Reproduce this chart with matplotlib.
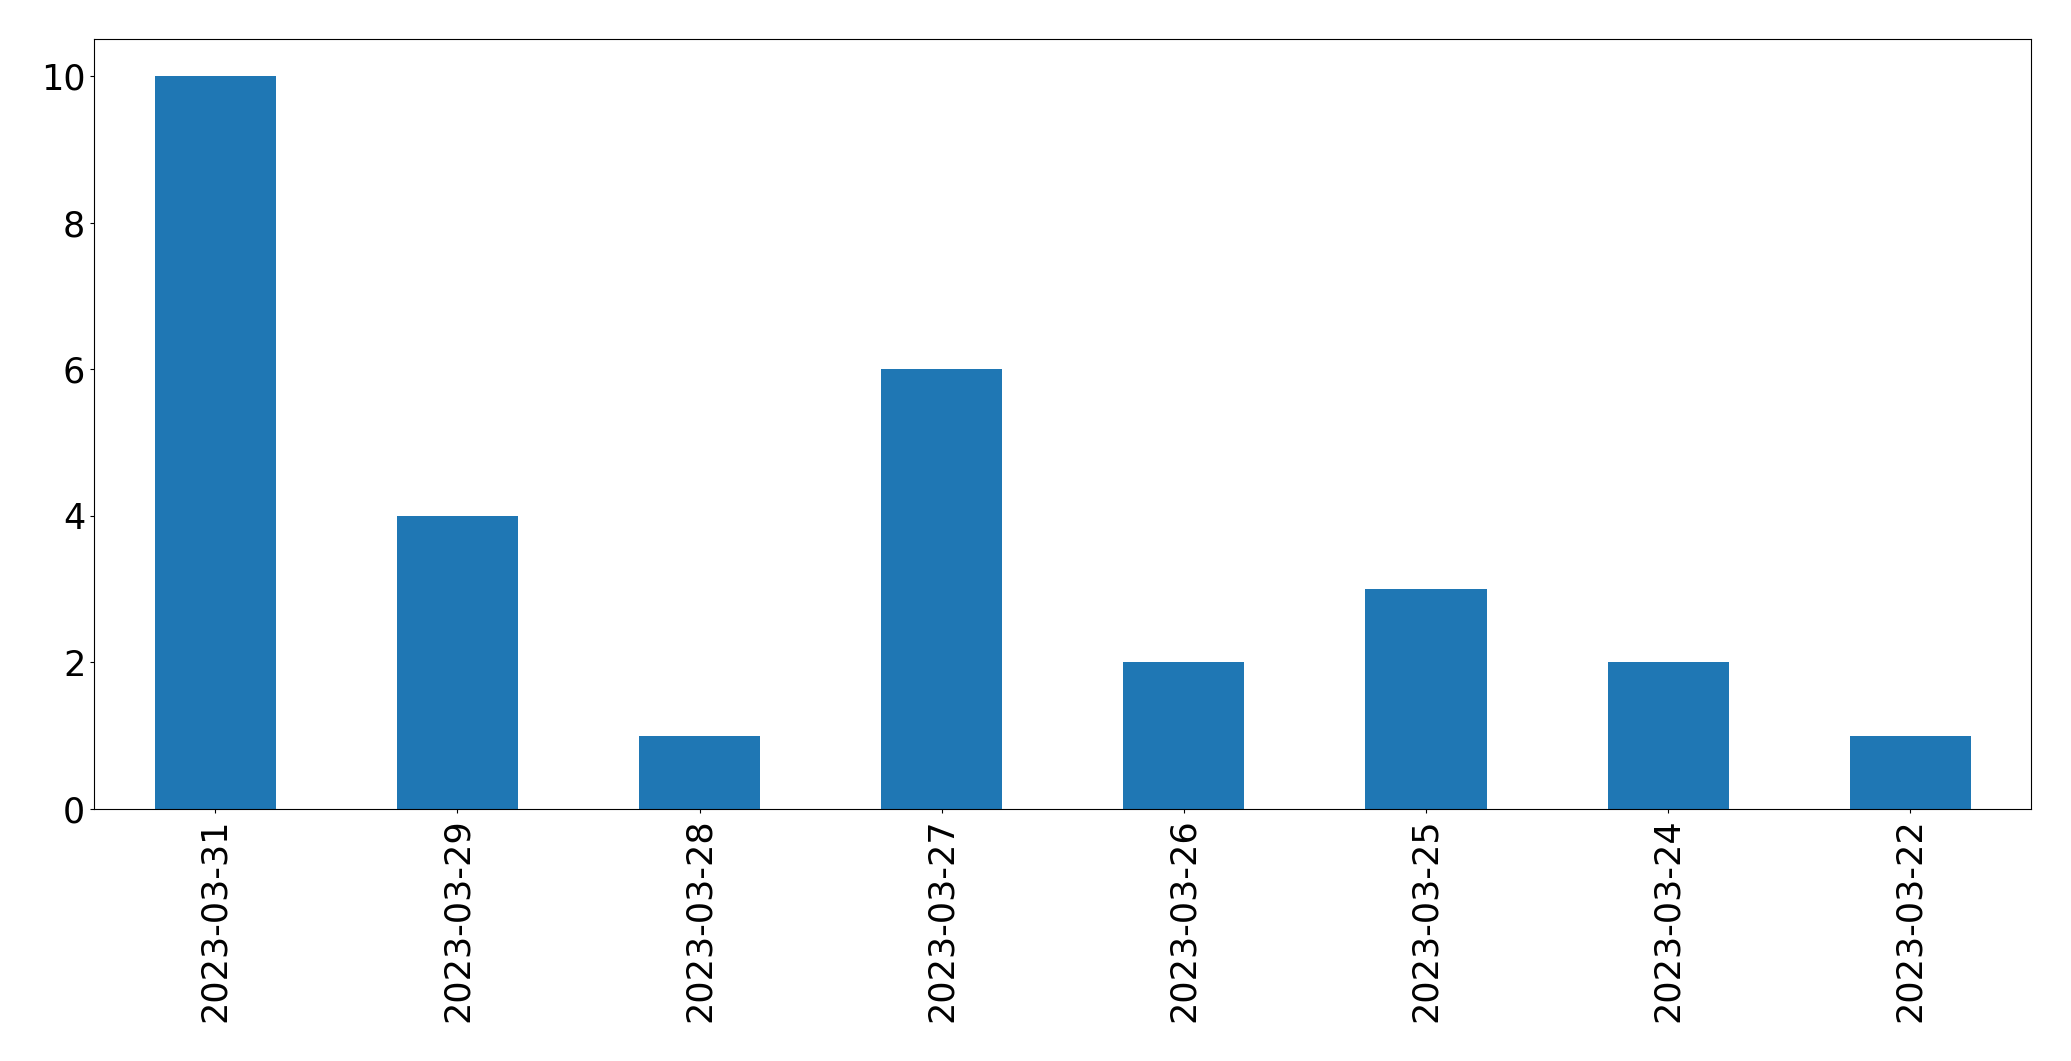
import matplotlib
matplotlib.use("Agg")
import matplotlib.pyplot as plt

dates = ["2023-03-31", "2023-03-29", "2023-03-28", "2023-03-27",
         "2023-03-26", "2023-03-25", "2023-03-24", "2023-03-22"]
counts = [10, 4, 1, 6, 2, 3, 2, 1]

fig = plt.figure(figsize=(20.71, 10.61), dpi=100)
ax = fig.add_axes([94.3 / 2071, 1 - 809 / 1061, (2031.3 - 94.3) / 2071, (809 - 39.3) / 1061])
x = range(len(dates))
ax.bar(x, counts, width=0.5, color="#1f77b4")
ax.set_xlim(-0.5, len(dates) - 0.5)
ax.set_ylim(0, 10.5)
ax.set_xticks(list(x))
ax.set_xticklabels(dates, rotation=90)
ax.set_yticks([0, 2, 4, 6, 8, 10])
ax.tick_params(axis="both", labelsize=25.2, length=3, width=0.8)
fig.savefig("out.png", dpi=100)
